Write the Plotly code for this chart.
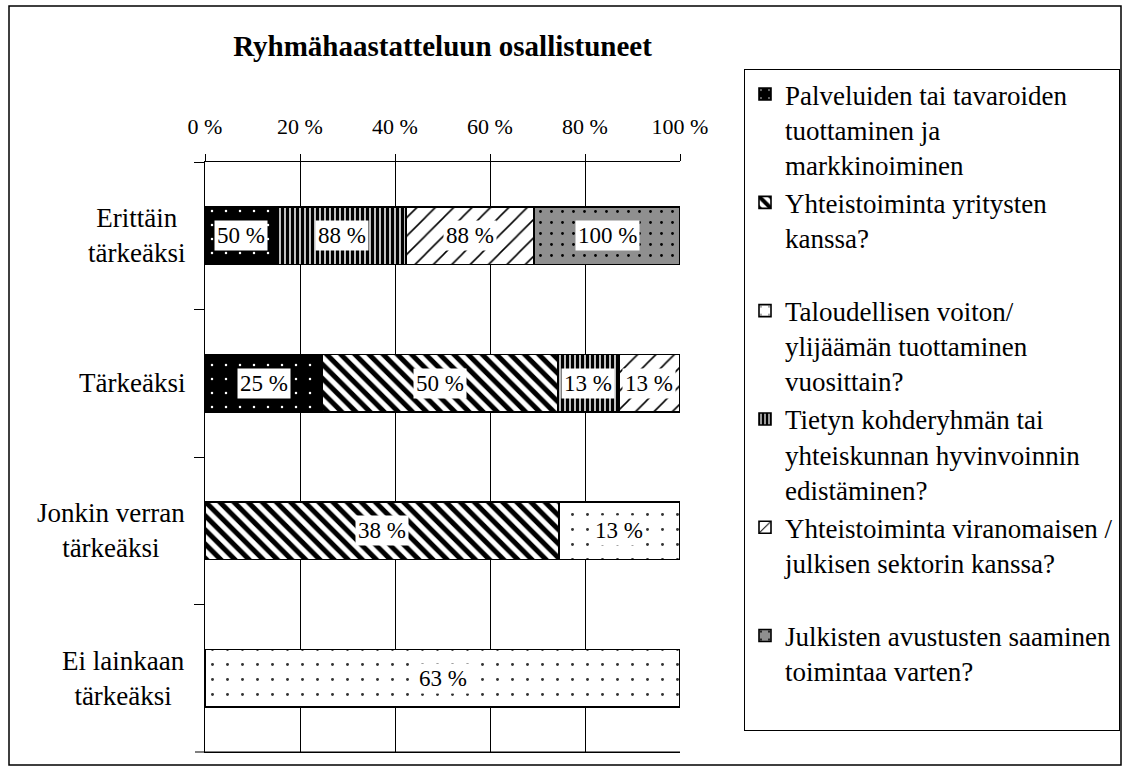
import plotly.graph_objects as go

# categories (top to bottom)
categories = ["Erittäin tärkeäksi", "Tärkeäksi", "Jonkin verran tärkeäksi", "Ei lainkaan tärkeäksi"]
category_labels = ["Erittäin<br>tärkeäksi", "Tärkeäksi", "Jonkin verran<br>tärkeäksi", "Ei lainkaan<br>tärkeäksi"]

# series values (% of respondents), None = not present
palveluiden = [50, 25, None, None]
yritysten = [None, 50, 38, None]
taloudellinen = [None, None, 13, 63]
hyvinvointi = [88, 13, None, None]
viranomainen = [88, 13, None, None]
avustukset = [100, None, None, None]

series_names = [
    "Palveluiden tai tavaroiden<br>tuottaminen ja<br>markkinoiminen",
    "Yhteistoiminta yritysten<br>kanssa?<br> ",
    "Taloudellisen voiton/<br>ylijäämän tuottaminen<br>vuosittain?",
    "Tietyn kohderyhmän tai<br>yhteiskunnan hyvinvoinnin<br>edistäminen?",
    "Yhteistoiminta viranomaisen /<br>julkisen sektorin kanssa?<br> ",
    "Julkisten avustusten saaminen<br>toimintaa varten?<br> ",
]
series_values = [palveluiden, yritysten, taloudellinen, hyvinvointi, viranomainen, avustukset]

patterns = [
    dict(shape=".", bgcolor="black", fgcolor="white", size=14, solidity=0.025),
    dict(shape="\\", bgcolor="white", fgcolor="black", size=10, solidity=0.5),
    dict(shape=".", bgcolor="white", fgcolor="#333333", size=15, solidity=0.03),
    dict(shape="|", bgcolor="white", fgcolor="black", size=5, solidity=0.7),
    dict(shape="/", bgcolor="white", fgcolor="black", size=13, solidity=0.12),
    dict(shape=".", bgcolor="#8f8f8f", fgcolor="black", size=11, solidity=0.05),
]
base_colors = ["black", "white", "white", "white", "white", "#8f8f8f"]

FONT = "Liberation Serif, Times New Roman, serif"

fig = go.Figure()
for name, vals, pat, col in zip(series_names, series_values, patterns, base_colors):
    fig.add_trace(go.Bar(
        y=categories,
        x=vals,
        name=name,
        orientation="h",
        width=0.39,
        marker=dict(color=col, pattern=dict(pat, fillmode="overlay", fgopacity=1),
                    line=dict(color="black", width=1.6)),
        hoverinfo="skip",
    ))

# value labels in white boxes at the centre of each segment
annotations = []
for i, cat in enumerate(categories):
    total = sum(v[i] for v in series_values if v[i] is not None)
    cum = 0
    for vals in series_values:
        v = vals[i]
        if v is None:
            continue
        mid = (cum + v / 2) / total * 100
        cum += v
        annotations.append(dict(
            x=mid, y=cat, xref="x", yref="y", text=f"{v} %", showarrow=False,
            bgcolor="white", borderpad=2, font=dict(family=FONT, size=23, color="black"),
        ))

# category labels: block right-aligned to the axis, lines centred
for cat, lab in zip(categories, category_labels):
    annotations.append(dict(
        x=0, y=cat, xref="paper", yref="y", text=lab, showarrow=False,
        xanchor="right", align="center", xshift=-18,
        font=dict(family=FONT, size=27, color="black"),
    ))

fig.update_layout(
    width=1123,
    height=767,
    barmode="stack",
    barnorm="percent",
    paper_bgcolor="white",
    plot_bgcolor="white",
    font=dict(family=FONT, color="black"),
    margin=dict(l=205, r=443, t=162, b=15, autoexpand=False),
    title=dict(
        text="<b>Ryhmähaastatteluun osallistuneet</b>",
        x=0.5, xref="paper", xanchor="center",
        y=1 - 46 / 767, yref="container", yanchor="middle",
        font=dict(family=FONT, size=29, color="black"),
    ),
    xaxis=dict(
        side="top", range=[0, 100], tick0=0, dtick=20, ticksuffix=" %",
        showgrid=True, gridcolor="black", gridwidth=1,
        showline=True, linecolor="black", linewidth=1, mirror=True,
        ticks="outside", ticklen=7, tickcolor="black", ticklabelstandoff=11,
        tickfont=dict(family=FONT, size=22, color="black"),
        zeroline=False, fixedrange=True,
    ),
    yaxis=dict(
        categoryorder="array", categoryarray=categories, autorange="reversed",
        showticklabels=False, tickson="boundaries",
        ticks="outside", ticklen=10, tickcolor="black",
        showgrid=False, showline=True, linecolor="black", linewidth=1,
        zeroline=False, fixedrange=True,
    ),
    legend=dict(
        x=744 / 1123, y=1 - 69 / 767, xanchor="left", yanchor="top",
        xref="container", yref="container", maxheight=720,
        bordercolor="black", borderwidth=1, bgcolor="white",
        traceorder="normal", valign="top",
        font=dict(family=FONT, size=27, color="black"),
    ),
    annotations=annotations,
    shapes=[
        # outer chart frame
        dict(type="rect", xref="paper", yref="paper",
             x0=(9 - 205) / 475, x1=(1121 - 205) / 475,
             y0=(752 - 765) / 590, y1=(752 - 6) / 590,
             line=dict(color="black", width=1.5), fillcolor="rgba(0,0,0,0)"),
        # bottom edge of the plot area with its boundary tick
        dict(type="line", xref="paper", yref="paper",
             x0=-10 / 475, x1=1, y0=0, y1=0,
             line=dict(color="black", width=1)),
    ],
)

fig.write_html("out.html", config={"displayModeBar": False},
               post_script="document.body.style.margin = '0';")
